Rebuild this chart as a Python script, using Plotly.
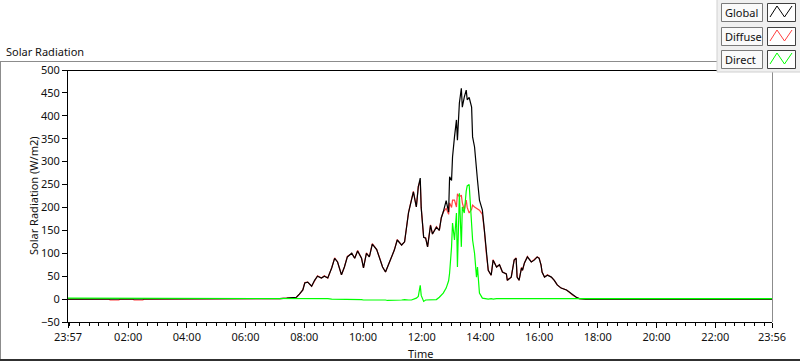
import plotly.graph_objects as go

# ---------------- data ----------------
start_time = "2020-01-01 23:57"
day = "2020-01-02"
times = ["01:20", "01:23", "01:41", "01:44", "02:09", "02:12", "02:30", "02:33", "07:00",
         "07:10", "07:24", "07:44", "07:50", "07:57", "08:01", "08:07", "08:15", "08:21", "08:27",
         "08:35", "08:41", "08:48", "08:56", "09:02", "09:08", "09:16", "09:22", "09:28", "09:37",
         "09:43", "09:49", "09:57", "10:01", "10:07", "10:13", "10:19", "10:28", "10:34", "10:40",
         "10:46", "10:50", "10:58", "11:04", "11:10", "11:19", "11:25", "11:29", "11:33", "11:39",
         "11:43", "11:49", "11:53", "11:57", "11:59", "12:04", "12:08", "12:12", "12:18", "12:22",
         "12:30", "12:36", "12:40", "12:44", "12:50", "12:55", "12:57", "13:01", "13:03", "13:07",
         "13:11", "13:13", "13:17", "13:21", "13:23", "13:27", "13:31", "13:33", "13:37", "13:42",
         "13:44", "13:48", "13:52", "13:54", "13:58", "14:04", "14:08", "14:12", "14:16", "14:22",
         "14:26", "14:33", "14:39", "14:45", "14:53", "14:55", "15:03", "15:09", "15:13", "15:15",
         "15:19", "15:24", "15:26", "15:30", "15:36", "15:44", "15:50", "15:56", "16:00", "16:04",
         "16:06", "16:11", "16:17", "16:25", "16:31", "16:37", "16:45", "16:56", "17:02", "17:08",
         "17:16", "17:22", "17:35", "23:56"]

global_rad = [0, 0, 0, 0, 0, 0, 0, 0, 0, 0,
              1, 2, 4, 11, 20, 35, 37, 28, 41, 50,
              46, 50, 46, 68, 89, 81, 53, 70, 92, 100,
              89, 105, 89, 68, 100, 92, 120, 108, 90, 70,
              59, 70, 92, 107, 129, 118, 125, 157, 188, 216,
              234, 201, 245, 264, 199, 135, 133, 114, 161, 142,
              157, 150, 177, 190, 215, 190, 267, 259, 310, 354,
              391, 347, 428, 460, 419, 441, 456, 435, 440, 419,
              354, 332, 275, 260, 216, 194, 151, 100, 63, 52,
              85, 70, 75, 59, 55, 41, 48, 85, 89, 48,
              41, 68, 63, 79, 92, 81, 85, 92, 89, 74,
              59, 48, 52, 48, 41, 31, 24, 20, 15, 9,
              4, 1, 0, 0]

diffuse_rad = [0, 0, -2, -2, 0, 0, -2, -2, 0, 0,
               1, 2, 4, 11, 20, 36, 37, 28, 41, 51,
               46, 51, 46, 68, 90, 81, 53, 70, 93, 100,
               89, 106, 89, 68, 101, 92, 121, 108, 90, 70,
               59, 70, 93, 107, 130, 118, 125, 157, 189, 217,
               235, 201, 246, 258, 199, 135, 134, 114, 162, 142,
               158, 150, 178, 190, 198, 185, 210, 200, 216, 216,
               201, 230, 223, 227, 210, 194, 216, 200, 188, 196,
               205, 201, 198, 196, 194, 185, 151, 100, 63, 52,
               86, 70, 75, 59, 55, 41, 48, 86, 90, 48,
               41, 69, 63, 79, 93, 81, 86, 92, 90, 74,
               59, 48, 53, 48, 41, 31, 24, 20, 15, 9,
               4, 1, 0, 0]

direct_rad = [2, 2, 2, 2, 2, 2, 2, 2, 2, 2,
              2, 2, 2, 2, 2, 1, 1, 1, 1, 1,
              1, 1, 1, 0, 0, 0, 0, 0, 0, -1,
              -1, -1, -1, -2, -2, -2, -1, -1, -2, -2,
              -2, -3, -3, -2, -2, -2, -1, -2, -2, -2,
              -1, 2, 6, 30, 8, -5, -2, -2, -2, -2,
              -1, 4, 8, 13, 24, 40, 57, 114, 166, 129,
              188, 70, 231, 114, 201, 188, 236, 247, 250, 173,
              129, 100, 48, 70, 13, 2, 1, 0, 0, 1,
              0, 1, 1, 0, 0, 1, 1, 1, 0, 1,
              1, 1, 1, 1, 1, 1, 1, 1, 1, 1,
              1, 1, 1, 1, 1, 1, 1, 1, 1, 1,
              1, 1, 1, 1]

tick_labels = ["23:57", "02:00", "04:00", "06:00", "08:00", "10:00", "12:00",
               "14:00", "16:00", "18:00", "20:00", "22:00", "23:56"]
y_ticks = [-50, 0, 50, 100, 150, 200, 250, 300, 350, 400, 450, 500]
series_names = ["Global", "Diffuse", "Direct"]
series_colors = ["#000000", "#ff4040", "#00ff00"]

# ---------------- build ----------------
x = [start_time] + [f"{day} {t}" for t in times]
tick_vals = [start_time] + [f"{day} {t}" for t in tick_labels[1:]]
end_time = tick_vals[-1]

W, H = 800, 361
L, R, T, B = 68, 28, 70, 39
PW, PH = W - L - R, H - T - B


def px(xp):
    return (xp - L) / PW


def py(yp):
    return (H - B - yp) / PH


FONT = "Noto Sans, sans-serif"
FS = 11
TXT = "#111111"

fig = go.Figure()
order = [1, 0, 2]
vals = [global_rad, diffuse_rad, direct_rad]
for i in order:
    fig.add_trace(go.Scatter(x=x, y=vals[i], mode="lines", name=series_names[i],
                             line=dict(color=series_colors[i], width=1.2),
                             showlegend=False, hoverinfo="skip"))

fig.update_layout(
    width=W, height=H, margin=dict(l=L, r=R, t=T, b=B, pad=0),
    paper_bgcolor="white", plot_bgcolor="white",
    font=dict(family=FONT, size=FS, color=TXT),
    xaxis=dict(type="date", range=[start_time, end_time], tickvals=tick_vals,
               ticktext=tick_labels, ticks="outside", ticklen=5, tickcolor="black",
               showgrid=False, zeroline=False, showline=True, linecolor="black",
               linewidth=1, tickfont=dict(size=FS, color=TXT),
               minor=dict(dtick=20 * 60 * 1000, tick0=f"{day} 00:00", ticks="outside",
                          ticklen=3, tickcolor="black", showgrid=False)),
    yaxis=dict(range=[-50, 500], tickvals=y_ticks, ticks="outside", ticklen=5,
               tickcolor="black", showgrid=False, zeroline=False, showline=True,
               linecolor="black", linewidth=1, tickfont=dict(size=FS, color=TXT)),
)

shapes = []
# outer frame
shapes.append(dict(type="line", xref="paper", yref="paper", x0=px(0), x1=px(717),
                   y0=py(61.5), y1=py(61.5), line=dict(color="#8c8c8c", width=1)))
shapes.append(dict(type="line", xref="paper", yref="paper", x0=px(0.5), x1=px(0.5),
                   y0=py(61), y1=py(360), line=dict(color="#8c8c8c", width=1)))
shapes.append(dict(type="line", xref="paper", yref="paper", x0=px(0), x1=px(800),
                   y0=py(360), y1=py(360), line=dict(color="#303030", width=2)))
# plot frame top / right
shapes.append(dict(type="line", xref="paper", yref="paper", x0=px(68), x1=px(772),
                   y0=py(70.5), y1=py(70.5), line=dict(color="black", width=1)))
shapes.append(dict(type="line", xref="paper", yref="paper", x0=px(772.5), x1=px(772.5),
                   y0=py(70), y1=py(322), line=dict(color="#8c8c8c", width=1)))
# legend panel
shapes.append(dict(type="rect", xref="paper", yref="paper", x0=px(717), x1=px(801),
                   y0=py(-1), y1=py(72), fillcolor="#f0f0f0",
                   line=dict(color="#d0d0d0", width=1), layer="above"))
rows = [3, 27, 50]
annotations = []
for i, r in enumerate(rows):
    shapes.append(dict(type="rect", xref="paper", yref="paper", x0=px(721.5), x1=px(762.5),
                       y0=py(r + 0.5), y1=py(r + 18.5), fillcolor="#fafafa",
                       line=dict(color="#7a7a7a", width=1), layer="above"))
    shapes.append(dict(type="rect", xref="paper", yref="paper", x0=px(767.5), x1=px(795.5),
                       y0=py(r + 0.5), y1=py(r + 18.5), fillcolor="white",
                       line=dict(color="#404040", width=1), layer="above"))
    path = (f"M {px(770)},{py(r + 14)} L {px(777)},{py(r + 3)} "
            f"L {px(784.5)},{py(r + 14)} L {px(792)},{py(r + 3)}")
    shapes.append(dict(type="path", xref="paper", yref="paper", path=path,
                       line=dict(color=series_colors[i], width=1), layer="above"))
    annotations.append(dict(xref="paper", yref="paper", x=px(723), y=py(r + 9.5),
                            xanchor="left", yanchor="middle", showarrow=False,
                            text=series_names[i], font=dict(size=FS, color=TXT)))

annotations.append(dict(xref="paper", yref="paper", x=px(4), y=py(51), xanchor="left",
                        yanchor="middle", showarrow=False, text="Solar Radiation",
                        font=dict(size=FS, color=TXT)))
annotations.append(dict(xref="paper", yref="paper", x=0.5, y=py(353), xanchor="center",
                        yanchor="middle", showarrow=False, text="Time",
                        font=dict(size=FS, color=TXT)))
annotations.append(dict(xref="paper", yref="paper", x=px(33), y=0.5, xanchor="center",
                        yanchor="middle", showarrow=False, textangle=-90,
                        text="Solar Radiation (W/m2)", font=dict(size=FS, color=TXT)))

fig.update_layout(shapes=shapes, annotations=annotations)
fig.write_html("out.html", config={"displayModeBar": False},
               post_script="document.body.style.margin='0px';"
                           "document.body.style.overflow='hidden';")
